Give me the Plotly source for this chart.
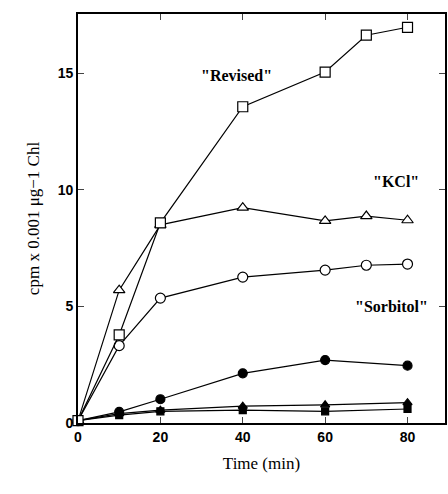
import plotly.graph_objects as go

time_revised = [0, 10, 20, 40, 60, 70, 80]
revised = [0.1, 3.78, 8.59, 13.57, 15.06, 16.64, 16.98]

time_kcl = [0, 10, 20, 40, 60, 70, 80]
kcl = [0.1, 5.7, 8.5, 9.24, 8.67, 8.88, 8.7]

time_sorb = [0, 10, 20, 40, 60, 70, 80]
sorbitol = [0.1, 3.32, 5.36, 6.26, 6.56, 6.77, 6.82]

time_filled = [0, 10, 20, 40, 60, 80]
filled_circle = [0.1, 0.48, 1.02, 2.13, 2.7, 2.46]
filled_triangle = [0.1, 0.4, 0.55, 0.72, 0.78, 0.87]
filled_square = [0.1, 0.34, 0.5, 0.55, 0.5, 0.6]

x_ticks = [0, 20, 40, 60, 80]
y_ticks = [0, 5, 10, 15]

labels = ['"Revised"', '"KCl"', '"Sorbitol"']
label_x = [38.4, 77.2, 76.2]
label_y = [14.89, 10.35, 4.98]

fig = go.Figure()
line = dict(color="black", width=1.2)

def add(x, y, symbol, fill, size=9):
    fig.add_trace(go.Scatter(x=x, y=y, mode="lines+markers", line=line,
                             marker=dict(symbol=symbol, size=size, color=fill,
                                         line=dict(color="black", width=1.2)),
                             showlegend=False, cliponaxis=False, hoverinfo="skip"))

add(time_filled, filled_square, "square", "black", 7)
add(time_filled, filled_triangle, "triangle-up", "black", 8)
add(time_filled, filled_circle, "circle", "black", 9)
add(time_sorb, sorbitol, "circle", "white", 10)
add(time_kcl, kcl, "triangle-up", "white", 10)
add(time_revised, revised, "square", "white", 10)

for t, lx, ly in zip(labels, label_x, label_y):
    fig.add_annotation(x=lx, y=ly, text=t, showarrow=False,
                       font=dict(family="Liberation Serif", size=16, color="black", weight="bold"))

fig.update_layout(
    width=448, height=494,
    margin=dict(l=78, r=1, t=14, b=71),
    paper_bgcolor="white", plot_bgcolor="white",
    xaxis=dict(range=[0, 89.1], tickvals=x_ticks, ticks="inside", ticklen=6,
               showline=True, linecolor="black", linewidth=1.6, mirror="ticks",
               showgrid=False, zeroline=False,
               tickfont=dict(family="Liberation Sans", size=14, color="black", weight="bold"),
               title=dict(text="Time (min)", font=dict(family="Liberation Serif", size=17, color="black"), standoff=14)),
    yaxis=dict(range=[0, 17.55], tickvals=y_ticks, ticks="inside", ticklen=6,
               showline=True, linecolor="black", linewidth=1.6, mirror="ticks",
               showgrid=False, zeroline=False,
               tickfont=dict(family="Liberation Sans", size=14, color="black", weight="bold"),
               title=dict(text="cpm x 0.001 μg−1 Chl", font=dict(family="Liberation Serif", size=17, color="black"), standoff=14)),
)

fig.write_html("out.html", config={"displayModeBar": False},
               post_script="document.body.style.margin='0';document.documentElement.style.overflow='hidden';")
